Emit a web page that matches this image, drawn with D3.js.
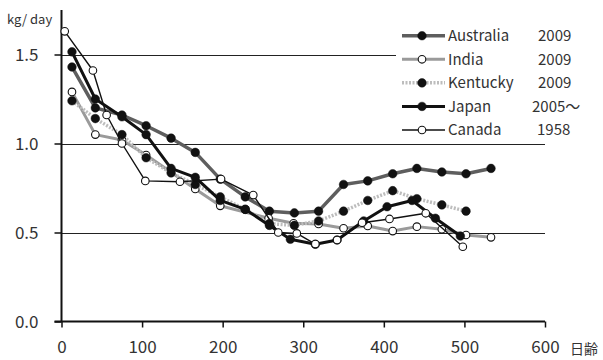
<!DOCTYPE html>
<html><head><meta charset="utf-8">
<script src="https://cdn.jsdelivr.net/npm/d3@7"></script>
<style>body{margin:0;background:#fff}svg{display:block}</style>
</head><body><svg id="c" width="603" height="360"></svg>
<script>
const seriesNames = ["Australia","India","Kentucky","Japan","Canada"];
const seriesYears = ["2009","2009","2009","2005～","1958"];
const xTicks = [0,100,200,300,400,500,600];
const yTicks = [0.0,0.5,1.0,1.5];
const australiaX = [13,42,75,105,136,166,197,228,258,289,319,350,380,411,441,472,502,533];
const australiaY = [1.43,1.20,1.16,1.10,1.03,0.95,0.80,0.70,0.62,0.61,0.62,0.77,0.79,0.83,0.86,0.84,0.83,0.86];
const indiaX = [13,42,75,105,166,197,257,288,319,350,380,411,441,472,502,533];
const indiaY = [1.29,1.05,1.02,0.935,0.745,0.65,0.58,0.552,0.548,0.524,0.537,0.508,0.533,0.518,0.486,0.473];
const kentuckyX = [13,42,75,105,136,166,197,228,258,289,319,350,380,411,441,472,502];
const kentuckyY = [1.24,1.14,1.05,0.92,0.835,0.77,0.70,0.63,0.55,0.54,0.565,0.62,0.68,0.735,0.69,0.655,0.62];
const japanX = [13,42,75,105,136,166,197,228,258,284,315,342,375,404,435,464,495];
const japanY = [1.515,1.25,1.15,1.05,0.86,0.81,0.68,0.63,0.54,0.462,0.434,0.458,0.565,0.645,0.68,0.58,0.48];
const canadaX = [4,39,56,75,104,147,198,238,269,292,315,342,373,407,452,498];
const canadaY = [1.63,1.41,1.16,1.00,0.79,0.785,0.80,0.71,0.50,0.495,0.435,0.458,0.555,0.576,0.608,0.42];

const styles = [
  {stroke:"#5e5e5e", w:3.5, dash:null, fill:"#111"},
  {stroke:"#9a9a9a", w:3, dash:null, fill:"#fff"},
  {stroke:"#bdbdbd", w:3.5, dash:"2 1.5", fill:"#111"},
  {stroke:"#111", w:3, dash:null, fill:"#111"},
  {stroke:"#111", w:1.4, dash:null, fill:"#fff"}
];
const data = [
  d3.zip(australiaX, australiaY),
  d3.zip(indiaX, indiaY),
  d3.zip(kentuckyX, kentuckyY),
  d3.zip(japanX, japanY),
  d3.zip(canadaX, canadaY)
];

const svg = d3.select("#c");
const font = "'Noto Sans CJK JP', 'Noto Sans', sans-serif";
const x = d3.scaleLinear().domain([0,600]).range([61.5,545]);
const y = d3.scaleLinear().domain([0,1.75]).range([321.5,10]);

// gridlines
svg.append("g").selectAll("line").data(yTicks.filter(v=>v>0)).join("line")
  .attr("x1", x(0)).attr("x2", x(600))
  .attr("y1", d=>Math.round(y(d))+0.5).attr("y2", d=>Math.round(y(d))+0.5)
  .attr("stroke","#222").attr("stroke-width",1.2);

// y axis
const ya = svg.append("g").attr("transform",`translate(${x(0)},0)`)
  .call(d3.axisLeft(y).tickValues(yTicks).tickFormat(d3.format(".1f")).tickSize(7).tickPadding(16));
ya.select(".domain").attr("d", `M0,${y(1.75)}V${y(0)}`).attr("stroke","#111").attr("stroke-width",2);
ya.selectAll(".tick line").attr("stroke","#111").attr("stroke-width",1.5);
ya.selectAll(".tick text").attr("font-family",font).attr("font-size",17).attr("fill","#333").attr("dy","0.36em");

// x axis
const xa = svg.append("g").attr("transform",`translate(0,${y(0)})`)
  .call(d3.axisBottom(x).tickValues(xTicks).tickSize(6).tickPadding(13));
xa.select(".domain").attr("d", `M${x(0)-7},0H${x(600)}`).attr("stroke","#111").attr("stroke-width",2);
xa.selectAll(".tick line").attr("stroke","#111").attr("stroke-width",1.5);
xa.selectAll(".tick text").attr("font-family",font).attr("font-size",17).attr("fill","#333");

svg.append("text").attr("x",7).attr("y",24).attr("font-family",font).attr("font-size",13).attr("fill","#333").text("kg/ day");
svg.append("text").attr("x",570).attr("y",354).attr("font-family",font).attr("font-size",14).attr("fill","#333").text("日齢");

const line = d3.line().x(d=>x(d[0])).y(d=>y(d[1]));
data.forEach((s,i)=>{
  const st = styles[i];
  const g = svg.append("g");
  g.append("path").attr("d", line(s)).attr("fill","none").attr("stroke",st.stroke)
   .attr("stroke-width",st.w).attr("stroke-dasharray",st.dash).attr("stroke-linejoin","round");
  g.selectAll("circle").data(s).join("circle")
   .attr("cx",d=>x(d[0])).attr("cy",d=>y(d[1]))
   .attr("r", st.fill==="#fff"?3.8:4.3)
   .attr("fill",st.fill).attr("stroke","#111").attr("stroke-width", st.fill==="#fff"?1.1:0.5);
});

// legend
const lg = svg.append("g");
lg.append("rect").attr("x",396).attr("y",22).attr("width",207).attr("height",118).attr("fill","#fff");
const rowY = d3.scaleLinear().domain([0,4]).range([35.7,130]);
const yearX = [538,538,538,532,537];
seriesNames.forEach((n,i)=>{
  const st = styles[i];
  const yy = rowY(i);
  lg.append("line").attr("x1",402).attr("x2",445).attr("y1",yy).attr("y2",yy)
    .attr("stroke",st.stroke).attr("stroke-width",st.w).attr("stroke-dasharray",st.dash);
  lg.append("circle").attr("cx",422).attr("cy",yy).attr("r",st.fill==="#fff"?3.8:4.3)
    .attr("fill",st.fill).attr("stroke","#111").attr("stroke-width",st.fill==="#fff"?1.1:0.5);
  lg.append("text").attr("x",448).attr("y",yy).attr("dy","0.36em").attr("font-family",font)
    .attr("font-size",15).attr("fill","#333").text(n);
  lg.append("text").attr("x",yearX[i]).attr("y",yy).attr("dy","0.36em").attr("font-family",font)
    .attr("font-size",15).attr("fill","#333").text(seriesYears[i]);
});
</script></body></html>
